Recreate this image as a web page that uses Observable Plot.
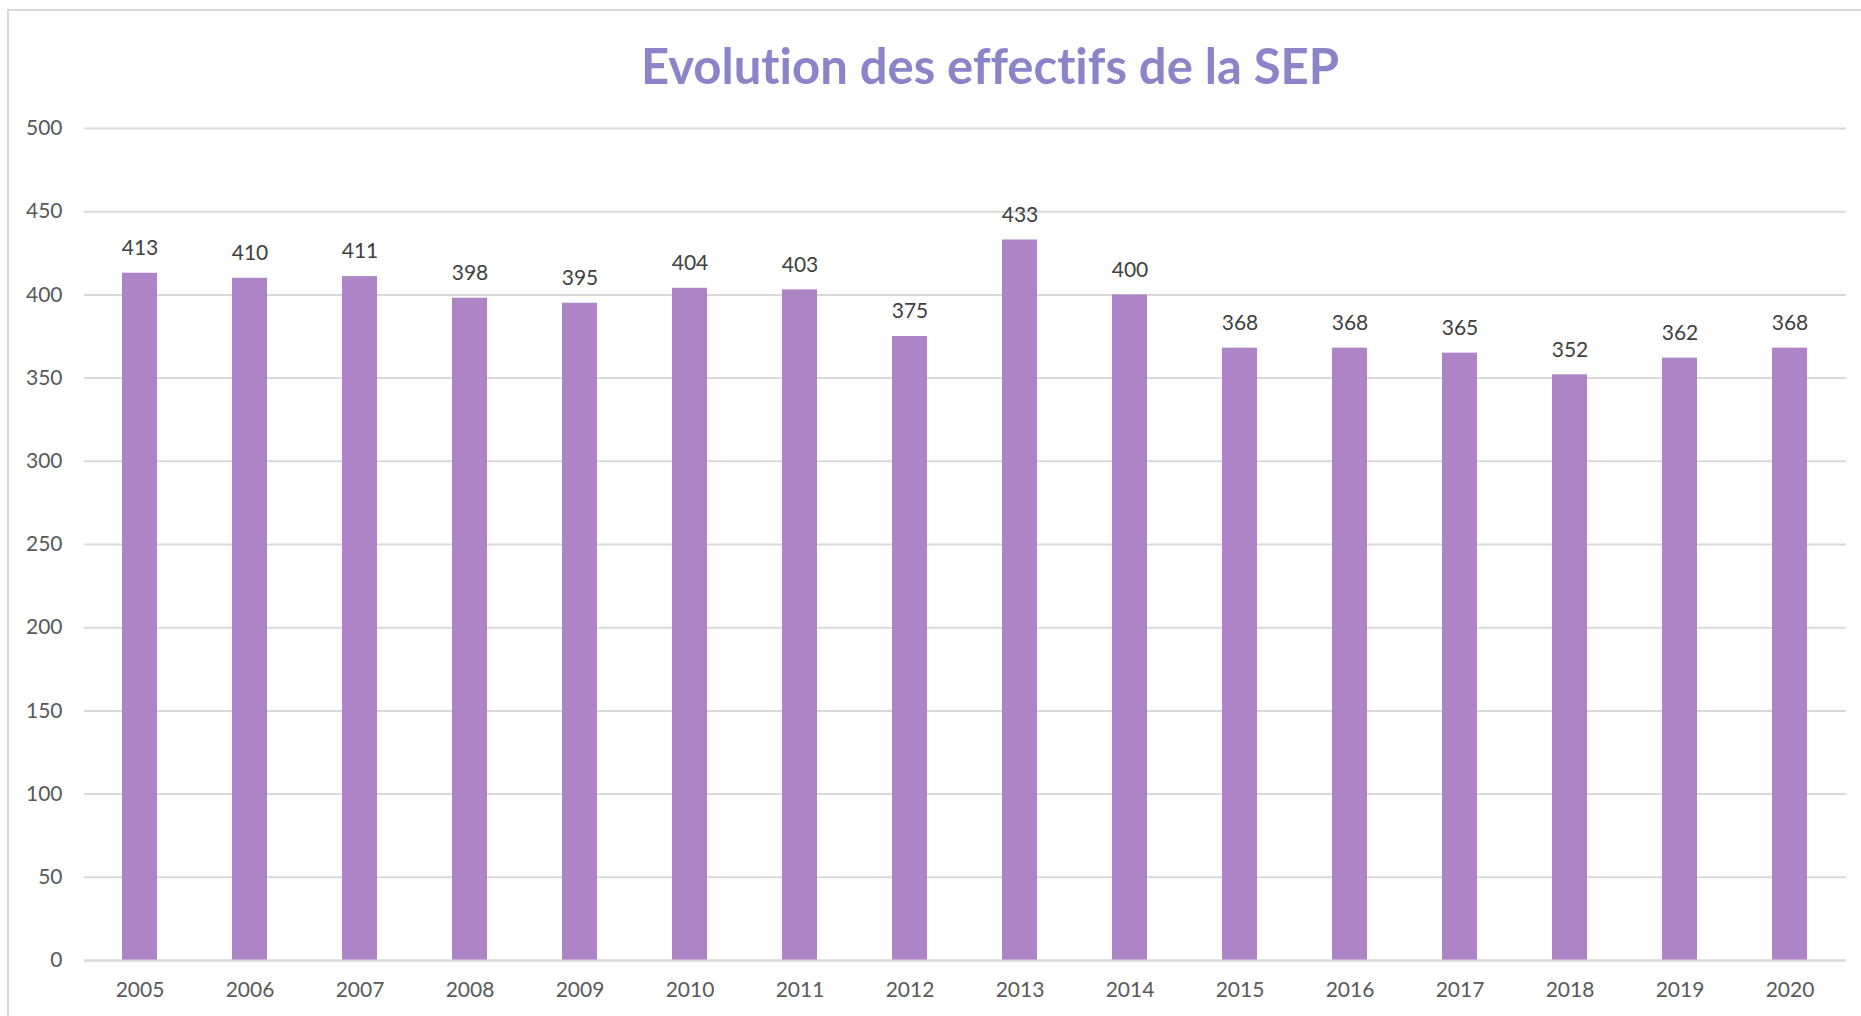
<!DOCTYPE html>
<html>
<head>
<meta charset="utf-8">
<script src="https://cdn.jsdelivr.net/npm/d3@7"></script>
<script src="https://cdn.jsdelivr.net/npm/@observablehq/plot@0.6"></script>
<style>
  html, body { margin: 0; padding: 0; background: #fff; overflow: hidden; }
  #wrap { position: relative; width: 1861px; height: 1016px; }
  #frame { position: absolute; left: 7px; top: 9px; width: 1900px; height: 1100px; border-left: 2px solid #d9d9d9; border-top: 2px solid #d9d9d9; }
  #title { position: absolute; left: 0; top: 0; width: 1980px; height: 100px; text-align: center; font-family: Lato, sans-serif; font-weight: bold; font-size: 49px; color: #8b84c9; line-height: 130px; font-variant-ligatures: none; }
  #chart { position: absolute; left: 0; top: 100px; }
</style>
</head>
<body>
<div id="wrap">
  <div id="frame"></div>
  <div id="title">Evolution des effectifs de la SEP</div>
  <div id="chart"></div>
</div>
<script>
const years = ["2005","2006","2007","2008","2009","2010","2011","2012","2013","2014","2015","2016","2017","2018","2019","2020"];
const values = [413, 410, 411, 398, 395, 404, 403, 375, 433, 400, 368, 368, 365, 352, 362, 368];
const yTicks = [0, 50, 100, 150, 200, 250, 300, 350, 400, 450, 500];

const data = years.map((y, i) => ({year: y, value: values[i]}));

const chart = Plot.plot({
  width: 1861,
  height: 916,
  marginTop: 28,
  marginBottom: 56,
  marginLeft: 84,
  marginRight: 15,
  style: {fontFamily: "Lato, sans-serif", fontSize: "21px", color: "#595959", background: "transparent"},
  x: {domain: years, paddingInner: 0.68, paddingOuter: 0.34, label: null},
  y: {domain: [0, 500], ticks: yTicks, label: null},
  marks: [
    Plot.gridY(yTicks, {stroke: "#d9d9d9", strokeOpacity: 1, strokeWidth: 2}),
    Plot.axisY(yTicks, {tickSize: 0, tickPadding: 22, fontSize: 21, fill: "#595959", label: null}),
    Plot.axisX({tickSize: 0, tickPadding: 22, fontSize: 21, fill: "#595959", label: null}),
    Plot.barY(data, {x: "year", y: "value", fill: "#ad85c6"}),
    Plot.ruleY([0], {stroke: "#d9d9d9", strokeWidth: 2}),
    Plot.text(data, {x: "year", y: "value", text: d => String(d.value), dy: -25, lineAnchor: "middle", fill: "#404040", fontSize: 21})
  ]
});
document.getElementById("chart").appendChild(chart);
</script>
</body>
</html>
